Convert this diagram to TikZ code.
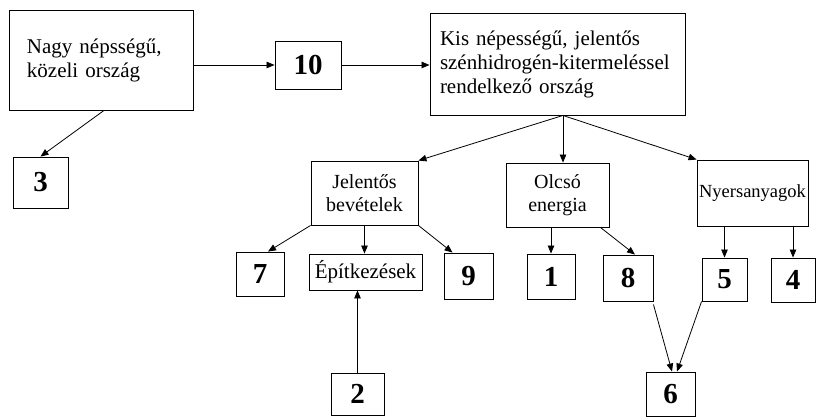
\documentclass[tikz,border=0pt]{standalone}
\usepackage{fontspec}
\setmainfont{Liberation Serif}
\usetikzlibrary{arrows.meta}
\begin{document}
\begin{tikzpicture}[x=1pt,y=-1pt,
  box/.style={draw,line width=0.9pt,inner sep=0pt,anchor=center},
  numbox/.style={box,font=\fontsize{29}{32}\selectfont\bfseries},
  txt/.style={font=\fontsize{21}{24}\selectfont},
  arr/.style={line width=0.8pt,-{Triangle[length=8pt,width=6.5pt]}}]
\useasboundingbox (0,0) rectangle (830,417);
\node[box,txt,align=left,text width=148pt,inner xsep=18pt,minimum height=100pt] (A) at (101,60) {Nagy népsségű,\\közeli ország};
\node[numbox,minimum width=66pt,minimum height=48pt] (n10) at (308,65) {10};
\node[box,txt,align=left,text width=235pt,inner xsep=10pt,minimum height=102pt] (K) at (557.5,64) {Kis népességű, jelentős\\szénhidrogén-kitermeléssel\\rendelkező ország};
\node[numbox,minimum width=55pt,minimum height=51pt] (n3) at (40.5,182.5) {3};
\node[box,align=center,font=\fontsize{20}{23}\selectfont,minimum width=107pt,minimum height=64pt] (J) at (364.5,193) {Jelentős\\bevételek};
\node[box,align=center,font=\fontsize{20}{23}\selectfont,minimum width=103pt,minimum height=64pt] (O) at (557.5,195) {Olcsó\\energia};
\node[box,align=center,font=\fontsize{18.5}{21}\selectfont,minimum width=111pt,minimum height=66pt] (N) at (752.5,193) {Nyersanyagok};
\node[numbox,minimum width=48pt,minimum height=44pt] (n7) at (260,274) {7};
\node[box,txt,minimum width=113pt,minimum height=36pt] (E) at (365.5,272) {Építkezések};
\node[numbox,minimum width=49pt,minimum height=46pt] (n9) at (468.5,276) {9};
\node[numbox,minimum width=53pt,minimum height=42pt] (n2) at (357.5,394) {2};
\node[numbox,minimum width=48pt,minimum height=45pt] (n1) at (551,276.5) {1};
\node[numbox,minimum width=50pt,minimum height=46pt] (n8) at (628,278) {8};
\node[numbox,minimum width=45pt,minimum height=43pt] (n5) at (724.5,279.5) {5};
\node[numbox,minimum width=44pt,minimum height=44pt] (n4) at (793,280) {4};
\node[numbox,minimum width=49pt,minimum height=44pt] (n6) at (670.5,394) {6};
\coordinate (ks) at ([xshift=5.5pt]K.south);
\draw[arr] (A.east |- n10.west) -- (n10.west);
\draw[arr] (n10.east) -- (K.west |- n10.east);
\draw[arr] ([xshift=3pt]A.south) -- (n3.north);
\draw[arr] (ks) -- (J.north east);
\draw[arr] (ks) -- (ks |- O.north);
\draw[arr] (ks) -- (N.north west);
\draw[arr] (J.south west) -- ([xshift=8pt]n7.north);
\draw[arr] (J.south) -- (J.south |- E.north);
\draw[arr] (J.south east) -- ([xshift=-16pt]n9.north);
\draw[arr] (n2.north) -- (n2.north |- E.south);
\draw[arr] (n1.north |- O.south) -- (n1.north);
\draw[arr] ([xshift=-9pt]O.south east) -- ([xshift=7pt]n8.north);
\draw[arr] (n5.north |- N.south) -- (n5.north);
\draw[arr] (n4.north |- N.south) -- (n4.north);
\draw[arr] ([yshift=-3pt]n8.south east) -- ([xshift=1.5pt]n6.north);
\draw[arr] (n5.south west) -- ([xshift=6.5pt]n6.north);
\end{tikzpicture}
\end{document}
